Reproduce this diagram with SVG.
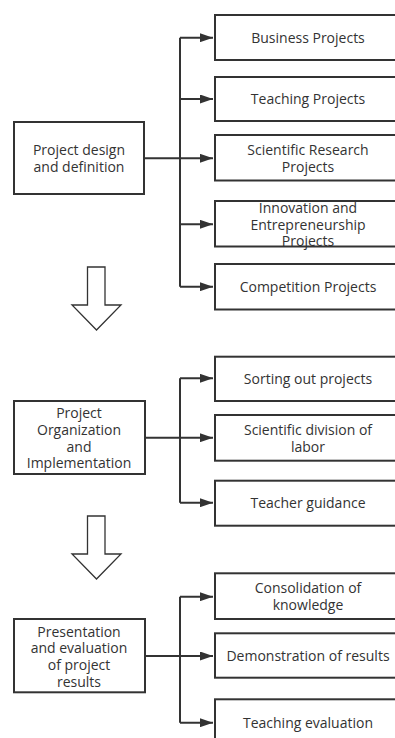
<svg xmlns="http://www.w3.org/2000/svg" width="395" height="738" viewBox="0 0 395 738">
<style>
.box{fill:#fff;stroke:#333;stroke-width:2}
.t{font-family:"Open Sans","Noto Sans",sans-serif;font-size:14px;fill:#333;text-anchor:middle}
.c{fill:none;stroke:#333;stroke-width:2}
.big{fill:#fff;stroke:#333;stroke-width:1.3}
</style>
<defs>
<marker id="ah" markerUnits="userSpaceOnUse" viewBox="0 0 13 9" refX="13" refY="4.5" markerWidth="13" markerHeight="9" orient="auto">
<path d="M0,0 L13,4.5 L0,9 z" fill="#333"/>
</marker>
</defs>
<g id="connectors">
<path class="c" d="M144,158.3 H180 M180,37.7 V286.7"/>
<path class="c" d="M180,37.7 H213" marker-end="url(#ah)"/>
<path class="c" d="M180,99 H213" marker-end="url(#ah)"/>
<path class="c" d="M180,158.3 H213" marker-end="url(#ah)"/>
<path class="c" d="M180,224.3 H213" marker-end="url(#ah)"/>
<path class="c" d="M180,286.7 H213" marker-end="url(#ah)"/>
<path class="c" d="M145,437.7 H180 M180,378.3 V502.7"/>
<path class="c" d="M180,378.3 H213" marker-end="url(#ah)"/>
<path class="c" d="M180,437.7 H213" marker-end="url(#ah)"/>
<path class="c" d="M180,502.7 H213" marker-end="url(#ah)"/>
<path class="c" d="M145,656 H180 M180,596.7 V722.7"/>
<path class="c" d="M180,596.7 H213" marker-end="url(#ah)"/>
<path class="c" d="M180,656 H213" marker-end="url(#ah)"/>
<path class="c" d="M180,722.7 H213" marker-end="url(#ah)"/>
<polygon class="big" points="87.5,267 105,267 105,305 121,305 96.5,330 72,305 87.5,305"/>
<polygon class="big" points="87.5,516 105,516 105,554 121,554 96.5,579 72,554 87.5,554"/>
</g>
<g id="n1"><rect class="box" x="14" y="122" width="130" height="72"/>
<text class="t" x="79" y="155">Project design</text><text class="t" x="79" y="171.5">and definition</text></g>
<g id="n1a"><rect class="box" x="215" y="15" width="186" height="45"/><text class="t" x="308" y="43">Business Projects</text></g>
<g id="n1b"><rect class="box" x="215" y="77" width="186" height="44"/><text class="t" x="308" y="104">Teaching Projects</text></g>
<g id="n1c"><rect class="box" x="215" y="135" width="186" height="45.5"/><text class="t" x="308" y="155">Scientific Research</text><text class="t" x="308" y="171.5">Projects</text></g>
<g id="n1d"><rect class="box" x="215" y="201" width="186" height="45.5"/><text class="t" x="308" y="213">Innovation and</text><text class="t" x="308" y="230">Entrepreneurship</text><text class="t" x="308" y="246">Projects</text></g>
<g id="n1e"><rect class="box" x="215" y="264" width="186" height="45.5"/><text class="t" x="308" y="291.5">Competition Projects</text></g>
<g id="n2"><rect class="box" x="14" y="401" width="131" height="73"/>
<text class="t" x="79" y="418.3">Project</text><text class="t" x="79" y="435">Organization</text><text class="t" x="79" y="451.5">and</text><text class="t" x="79" y="467.5">Implementation</text></g>
<g id="n2a"><rect class="box" x="215" y="356.7" width="186" height="44.3"/><text class="t" x="308" y="384">Sorting out projects</text></g>
<g id="n2b"><rect class="box" x="215" y="415" width="186" height="45.7"/><text class="t" x="308" y="435">Scientific division of</text><text class="t" x="308" y="451.5">labor</text></g>
<g id="n2c"><rect class="box" x="215" y="480.7" width="186" height="45"/><text class="t" x="308" y="508">Teacher guidance</text></g>
<g id="n3"><rect class="box" x="14" y="619" width="131" height="73.3"/>
<text class="t" x="79" y="636.5">Presentation</text><text class="t" x="79" y="653.3">and evaluation</text><text class="t" x="79" y="670">of project</text><text class="t" x="79" y="686.5">results</text></g>
<g id="n3a"><rect class="box" x="215" y="573.3" width="186" height="45.7"/><text class="t" x="308" y="593.3">Consolidation of</text><text class="t" x="308" y="610">knowledge</text></g>
<g id="n3b"><rect class="box" x="215" y="633.3" width="186" height="44.4"/><text class="t" x="308" y="661">Demonstration of results</text></g>
<g id="n3c"><rect class="box" x="215" y="699.3" width="186" height="50"/><text class="t" x="308" y="727.5">Teaching evaluation</text></g>
</svg>
